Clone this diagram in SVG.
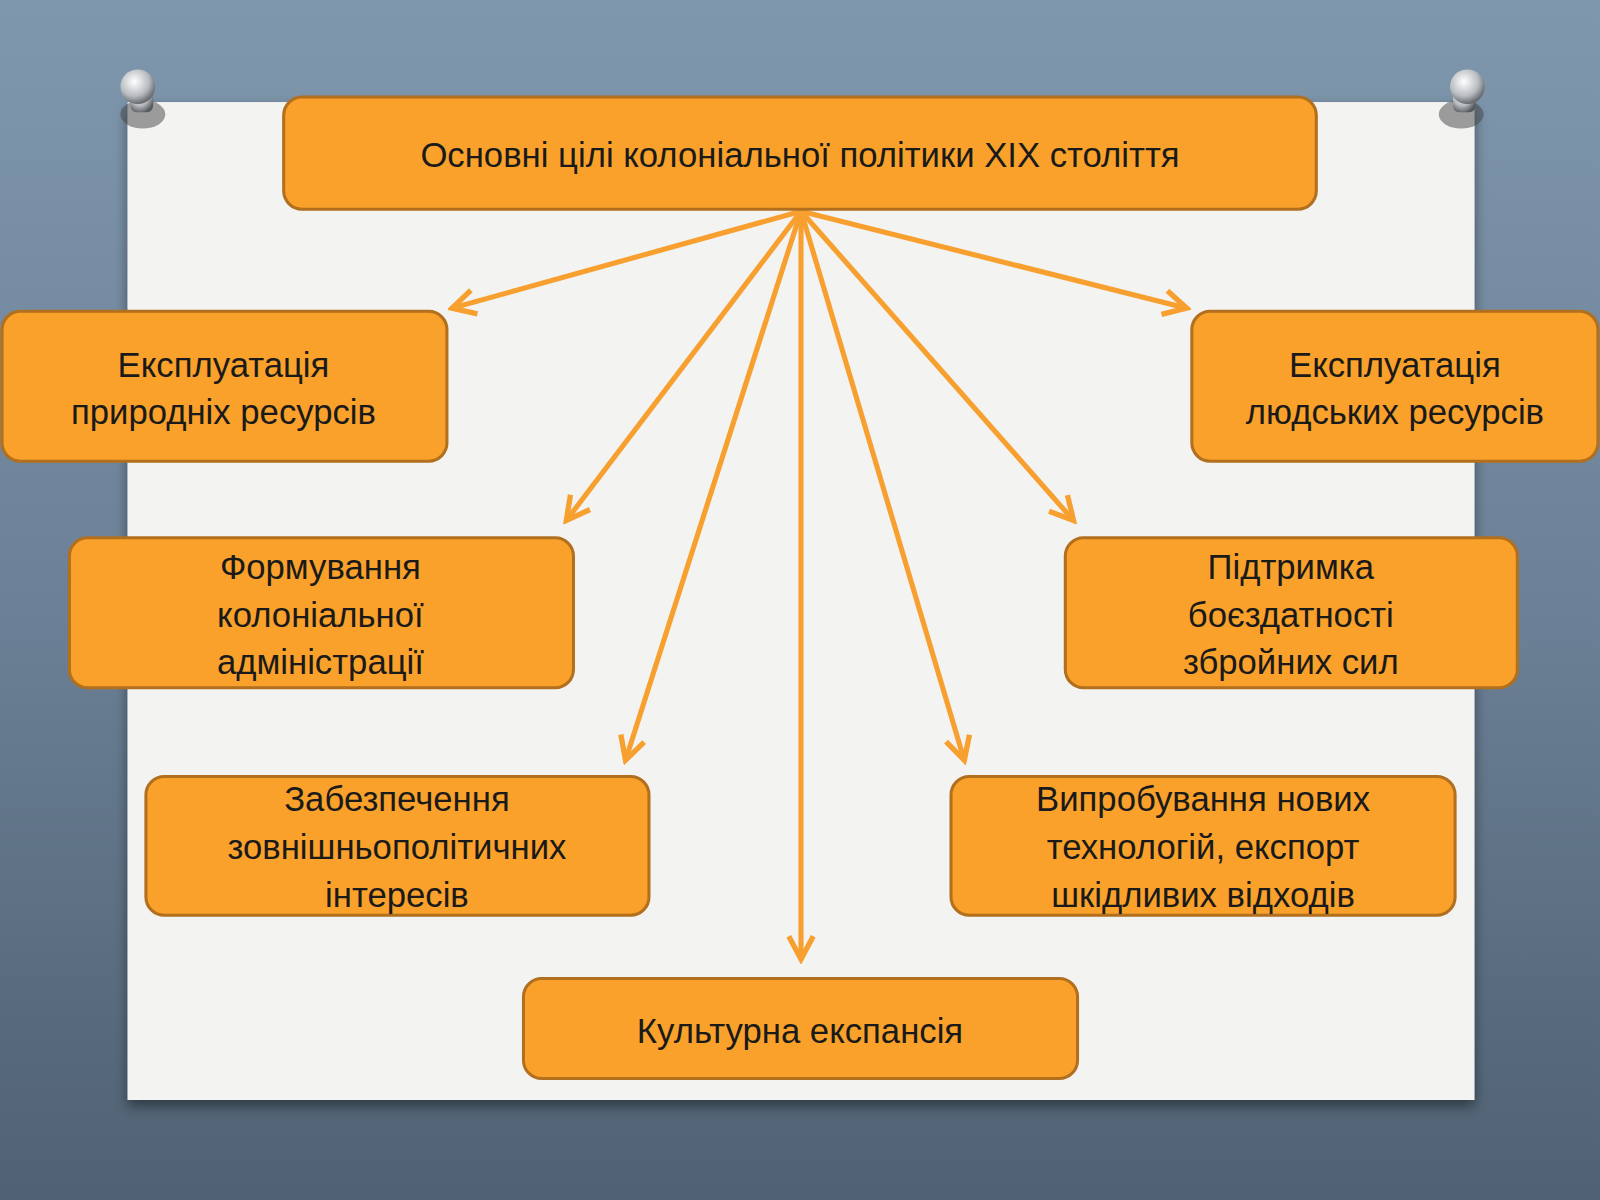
<svg xmlns="http://www.w3.org/2000/svg" width="1600" height="1200" viewBox="0 0 1600 1200">
<defs>
<linearGradient id="bg" x1="0" y1="0" x2="0" y2="1"><stop offset="0" stop-color="#7f97ad"/><stop offset="0.5" stop-color="#6c8197"/><stop offset="1" stop-color="#4f6172"/></linearGradient>
<radialGradient id="pin" cx="0.4" cy="0.35" r="0.7"><stop offset="0" stop-color="#ffffff"/><stop offset="0.6" stop-color="#b8bcc0"/><stop offset="1" stop-color="#55595d"/></radialGradient>
<marker id="ah" viewBox="0 0 20 20" refX="17" refY="10" markerWidth="6" markerHeight="6" orient="auto" markerUnits="strokeWidth"><path d="M2,2 L17,10 L2,18" fill="none" stroke="#f7a030" stroke-width="3.5" stroke-linejoin="miter"/></marker>
<filter id="sh" x="-5%" y="-5%" width="110%" height="115%"><feDropShadow dx="0" dy="6" stdDeviation="6" flood-color="#000" flood-opacity="0.45"/></filter>
</defs>
<style>
.box{fill:#f9a12a;stroke:#b26f1e;stroke-width:3}
.t{font-family:"Liberation Sans",Arial,sans-serif;font-size:34px;fill:#1a1a1a;text-anchor:middle}
.c{stroke:#f7a030;stroke-width:5;fill:none;marker-end:url(#ah)}
</style>
<g transform="scale(1.0204)">
<rect x="0" y="0" width="1568" height="1176" fill="url(#bg)"/>
<rect x="125" y="100" width="1320" height="978" fill="#f3f3f2" filter="url(#sh)"/>
<g id="pins">
<ellipse cx="140" cy="112" rx="22" ry="14" fill="#444" opacity="0.5"/>
<rect x="128" y="82" width="22" height="28" rx="6" fill="url(#pin)"/>
<circle cx="135" cy="85" r="17" fill="url(#pin)"/>
<ellipse cx="1432" cy="112" rx="22" ry="14" fill="#444" opacity="0.5"/>
<rect x="1424" y="82" width="22" height="28" rx="6" fill="url(#pin)"/>
<circle cx="1438" cy="85" r="17" fill="url(#pin)"/>
</g>
<g id="connectors">
<line class="c" x1="785" y1="207" x2="443" y2="302"/>
<line class="c" x1="785" y1="207" x2="555" y2="510"/>
<line class="c" x1="785" y1="207" x2="613" y2="745"/>
<line class="c" x1="785" y1="207" x2="785" y2="940"/>
<line class="c" x1="785" y1="207" x2="945" y2="745"/>
<line class="c" x1="785" y1="207" x2="1052" y2="510"/>
<line class="c" x1="785" y1="207" x2="1163" y2="302"/>
</g>
<g id="top"><rect class="box" x="278" y="95" width="1012" height="110" rx="18"/><text class="t" x="784" y="164">Основні цілі колоніальної політики XIX століття</text></g>
<g id="n1"><rect class="box" x="2" y="305" width="436" height="147" rx="18"/><text class="t" x="219" y="369">Експлуатація</text><text class="t" x="219" y="416">природніх ресурсів</text></g>
<g id="n2"><rect class="box" x="1168" y="305" width="398" height="147" rx="18"/><text class="t" x="1367" y="369">Експлуатація</text><text class="t" x="1367" y="416">людських ресурсів</text></g>
<g id="n3"><rect class="box" x="68" y="527" width="494" height="147" rx="18"/><text class="t" x="314" y="567">Формування</text><text class="t" x="314" y="614">колоніальної</text><text class="t" x="314" y="661">адміністрації</text></g>
<g id="n4"><rect class="box" x="1044" y="527" width="443" height="147" rx="18"/><text class="t" x="1265" y="567">Підтримка</text><text class="t" x="1265" y="614">боєздатності</text><text class="t" x="1265" y="661">збройних сил</text></g>
<g id="n5"><rect class="box" x="143" y="761" width="493" height="136" rx="18"/><text class="t" x="389" y="795">Забезпечення</text><text class="t" x="389" y="842">зовнішньополітичних</text><text class="t" x="389" y="889">інтересів</text></g>
<g id="n6"><rect class="box" x="932" y="761" width="494" height="136" rx="18"/><text class="t" x="1179" y="795">Випробування нових</text><text class="t" x="1179" y="842">технологій, експорт</text><text class="t" x="1179" y="889">шкідливих відходів</text></g>
<g id="n7"><rect class="box" x="513" y="959" width="543" height="98" rx="18"/><text class="t" x="784" y="1022">Культурна експансія</text></g>
</g>
</svg>
